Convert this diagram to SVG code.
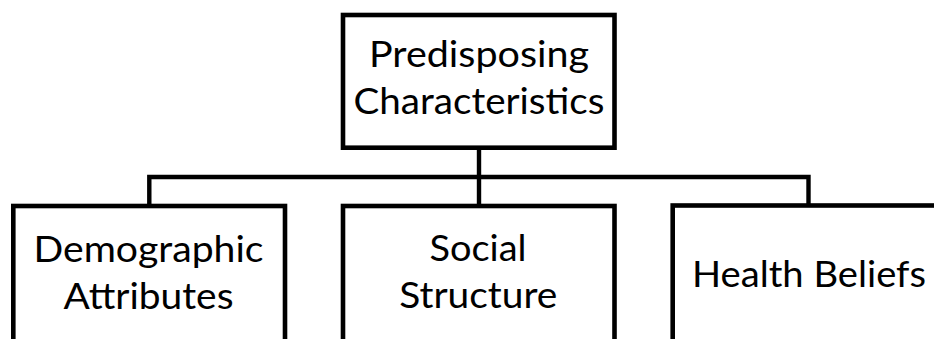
<svg xmlns="http://www.w3.org/2000/svg" width="934" height="339" viewBox="0 0 934 339">
<style>
.box{fill:#fff;stroke:#000;stroke-width:4.6}
.conn{fill:none;stroke:#000;stroke-width:4.4;stroke-linejoin:miter}
text{font-family:Lato,"Liberation Sans",sans-serif;font-size:37px;fill:#000;text-anchor:middle}
</style>
<rect width="934" height="339" fill="#fff"/>
<g id="connectors">
<path class="conn" d="M479,148 V206"/>
<path class="conn" d="M149.3,206 V177 H808.5 V206"/>
</g>
<g id="predisposing">
<rect class="box" x="343" y="15" width="271.5" height="132.7"/>
<text x="479" y="67" textLength="220" lengthAdjust="spacingAndGlyphs">Predisposing</text>
<text x="479" y="113.5" textLength="251" lengthAdjust="spacingAndGlyphs">Characteristics</text>
</g>
<g id="demographic">
<rect class="box" x="13.3" y="206" width="271.7" height="160"/>
<text x="148.5" y="262" textLength="230" lengthAdjust="spacingAndGlyphs">Demographic</text>
<text x="148.5" y="308.5" textLength="170" lengthAdjust="spacingAndGlyphs">Attributes</text>
</g>
<g id="social">
<rect class="box" x="343" y="206" width="271.5" height="160"/>
<text x="478" y="261" textLength="97" lengthAdjust="spacingAndGlyphs">Social</text>
<text x="478.3" y="308" textLength="158" lengthAdjust="spacingAndGlyphs">Structure</text>
</g>
<g id="health">
<rect class="box" x="672.7" y="205.5" width="271.7" height="160"/>
<text x="809" y="287" textLength="234" lengthAdjust="spacingAndGlyphs">Health Beliefs</text>
</g>
</svg>
